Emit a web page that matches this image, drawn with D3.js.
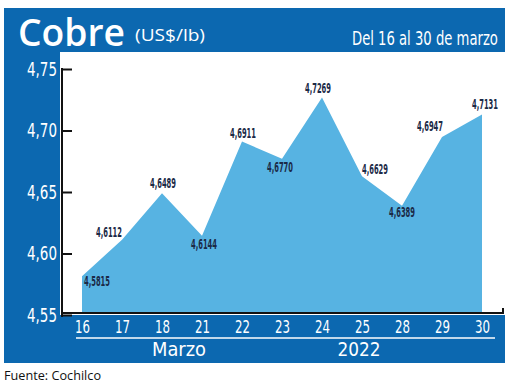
<!DOCTYPE html>
<html>
<head>
<meta charset="utf-8">
<script src="https://cdn.jsdelivr.net/npm/d3@7"></script>
<style>
  html, body { margin: 0; padding: 0; background: #fff; }
  svg { display: block; }
</style>
</head>
<body>
<svg id="chart" width="520" height="385"></svg>
<script>
// Cobre (US$/lb), 16–30 marzo 2022
const days = ['16', '17', '18', '21', '22', '23', '24', '25', '28', '29', '30'];
const prices = [4.5815, 4.6112, 4.6489, 4.6144, 4.6911, 4.6770, 4.7269, 4.6629, 4.6389, 4.6947, 4.7131];
const yTicks = [4.55, 4.60, 4.65, 4.70, 4.75];
const groupLabels = ['Marzo', '2022'];

// label offset from its point (label centre): [dx, dy]
const labelPos = [
  [15, 5], [-13, -8], [1, -10], [2, 8], [1, -8], [-2, 8],
  [-4, -9], [13, -7], [0, 6], [-12, -11], [3, -10]
];

const BLUE = '#0c68b0';
const AREA = '#57b3e2';
const NAVY = '#1b2a47';
const COND = "'DejaVu Sans Condensed', 'Liberation Sans Narrow', sans-serif";
const fmt = v => v.toFixed(4).replace('.', ',');

const svg = d3.select('#chart');

// squeeze a text horizontally to a given width (narrow font look)
function squeeze(g, width) {
  const t = g.select('text');
  const len = t.node().getComputedTextLength();
  t.attr('transform', `scale(${width / len},1)`);
}

// blue frame: header, left strip, bottom band
svg.append('rect').attr('x', 4).attr('y', 8).attr('width', 501).attr('height', 44).attr('fill', BLUE);
svg.append('rect').attr('x', 4).attr('y', 8).attr('width', 56).attr('height', 355).attr('fill', BLUE);
svg.append('rect').attr('x', 4).attr('y', 315).attr('width', 501).attr('height', 48).attr('fill', BLUE);

// header texts
svg.append('text')
  .attr('x', 18).attr('y', 46)
  .attr('fill', '#fff')
  .attr('font-family', "'Open Sans', sans-serif")
  .attr('font-weight', 600)
  .attr('font-size', 37)
  .attr('textLength', 107).attr('lengthAdjust', 'spacingAndGlyphs')
  .text('Cobre');

svg.append('text')
  .attr('x', 135).attr('y', 41)
  .attr('fill', '#fff')
  .attr('font-family', "'Open Sans', sans-serif")
  .attr('font-size', 16)
  .attr('textLength', 70).attr('lengthAdjust', 'spacingAndGlyphs')
  .text('(US$/lb)');

const dateG = svg.append('g').attr('transform', 'translate(352,45)');
dateG.append('text')
  .attr('fill', '#fff')
  .attr('font-family', COND)
  .attr('font-size', 19)
  .text('Del 16 al 30 de marzo');
squeeze(dateG, 146);

// scales
const x = d3.scalePoint().domain(days).range([82, 482]);
const y = d3.scaleLinear().domain([4.55, 4.75]).range([315, 69]);

// area
const area = d3.area()
  .x((d, i) => x(days[i]))
  .y0(y(4.55) - 2)
  .y1(d => y(d));

svg.append('path')
  .datum(prices)
  .attr('d', area)
  .attr('fill', AREA);

// baseline
svg.append('path')
  .attr('d', `M62,${y(4.55) - 2}H503V${y(4.55) - 7}`)
  .attr('fill', 'none')
  .attr('stroke', '#111')
  .attr('stroke-width', 2);

// y axis (ticks inside, labels outside)
const yAxis = svg.append('g')
  .attr('transform', 'translate(62,0)')
  .call(d3.axisLeft(y).tickValues(yTicks).tickSizeInner(-10).tickSizeOuter(0).tickPadding(5)
    .tickFormat(d => d.toFixed(2).replace('.', ',')));

yAxis.select('.domain').attr('stroke', '#111').attr('stroke-width', 2)
  .attr('d', `M0,${y(4.75) - 1}V${y(4.55) + 2}`);
yAxis.selectAll('.tick line').attr('stroke', '#111').attr('stroke-width', 2);
yAxis.selectAll('.tick text')
  .attr('fill', '#fff')
  .attr('font-family', COND)
  .attr('font-size', 19)
  .attr('textLength', 30).attr('lengthAdjust', 'spacingAndGlyphs');

// x axis labels in the band
const xAxis = svg.append('g')
  .attr('transform', 'translate(0,320)')
  .call(d3.axisBottom(x).tickSize(0).tickPadding(0));
xAxis.select('.domain').remove();
xAxis.selectAll('.tick text')
  .attr('fill', '#fff')
  .attr('font-family', COND)
  .attr('font-size', 17)
  .attr('dy', '0.75em')
  .attr('textLength', 15).attr('lengthAdjust', 'spacingAndGlyphs');

svg.append('line')
  .attr('x1', 76).attr('x2', 495)
  .attr('y1', 338).attr('y2', 338)
  .attr('stroke', '#fff').attr('stroke-width', 1.5);

const groupX = d3.scalePoint().domain(groupLabels).range([179, 359]);
svg.selectAll('.group-label')
  .data(groupLabels)
  .join('text')
  .attr('class', 'group-label')
  .attr('x', d => groupX(d))
  .attr('y', 356)
  .attr('text-anchor', 'middle')
  .attr('fill', '#fff')
  .attr('font-family', COND)
  .attr('font-size', 20)
  .attr('textLength', (d, i) => i === 0 ? 54 : 43).attr('lengthAdjust', 'spacingAndGlyphs')
  .text(d => d);

// value labels
svg.selectAll('.val')
  .data(prices)
  .join('text')
  .attr('class', 'val')
  .attr('x', (d, i) => x(days[i]) + labelPos[i][0] - 13)
  .attr('y', (d, i) => y(d) + labelPos[i][1])
  .attr('dy', '0.35em')
  .attr('fill', NAVY)
  .attr('font-family', COND)
  .attr('font-weight', 'bold')
  .attr('font-size', 14)
  .attr('textLength', 26).attr('lengthAdjust', 'spacingAndGlyphs')
  .text(d => fmt(d));

// source
svg.append('text')
  .attr('x', 4).attr('y', 380)
  .attr('fill', '#111')
  .attr('font-family', "'Open Sans', sans-serif")
  .attr('font-size', 13)
  .attr('textLength', 97).attr('lengthAdjust', 'spacingAndGlyphs')
  .text('Fuente: Cochilco');
</script>
</body>
</html>
